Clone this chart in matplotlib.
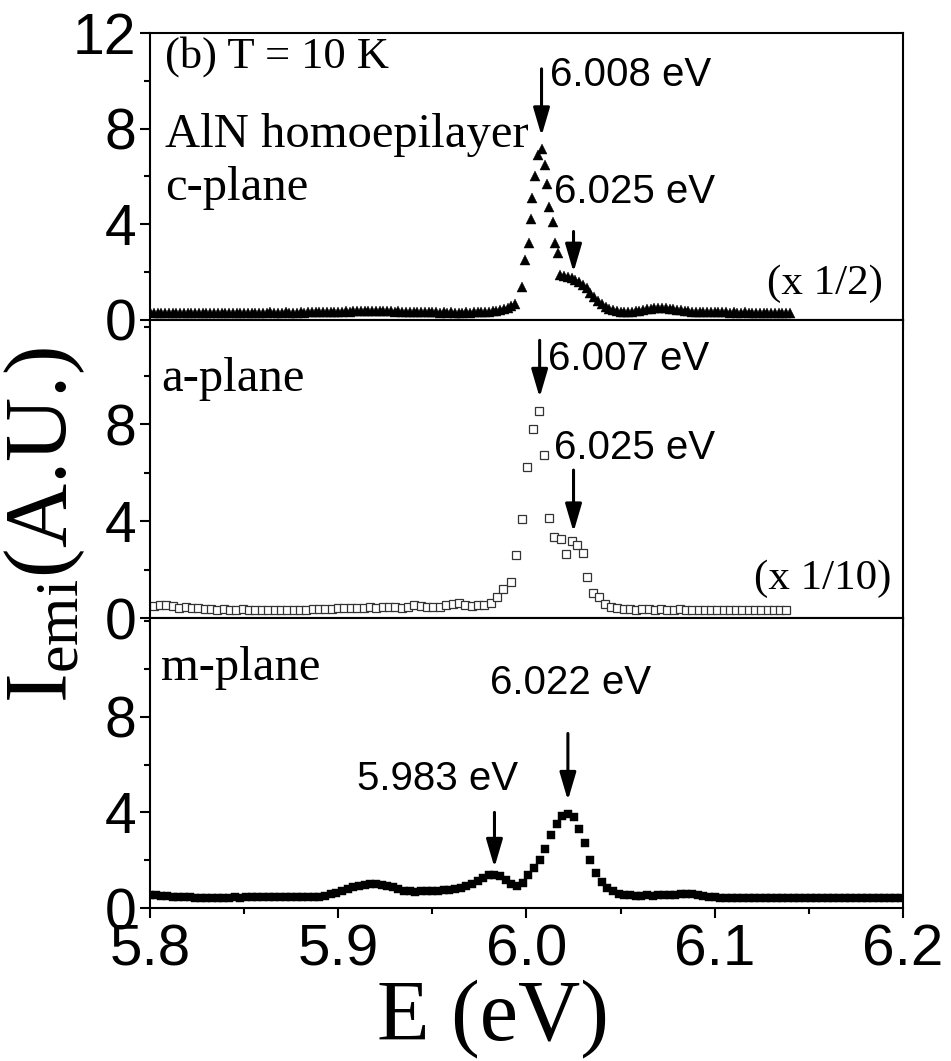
import numpy as np
import matplotlib.pyplot as plt
from matplotlib.ticker import MultipleLocator

plt.rcParams['mathtext.fontset'] = 'custom'
plt.rcParams['mathtext.rm'] = 'Liberation Serif'
plt.rcParams['mathtext.it'] = 'Liberation Serif:italic'

SANS = 'Liberation Sans'
SERIF = 'Liberation Serif'

# ---- c-plane (triangles), shown x 1/2 ----
c_base_left = [
    0.32, 0.31, 0.30, 0.31, 0.30, 0.29, 0.30, 0.31, 0.30, 0.29,
    0.30, 0.29, 0.30, 0.31, 0.30, 0.29, 0.30, 0.30, 0.31, 0.30,
    0.29, 0.30, 0.31, 0.30, 0.30, 0.31, 0.30, 0.29, 0.30, 0.31,
    0.30, 0.31, 0.32, 0.31, 0.30, 0.31, 0.32, 0.31, 0.30, 0.31,
    0.32, 0.31, 0.32, 0.33, 0.32, 0.33, 0.34, 0.33, 0.34, 0.35,
    0.34, 0.35, 0.36, 0.35, 0.36, 0.37, 0.36, 0.37, 0.38, 0.37,
    0.38, 0.37, 0.36, 0.37, 0.36, 0.35, 0.36, 0.35, 0.34, 0.35,
    0.34, 0.33, 0.34, 0.33, 0.32, 0.33, 0.32, 0.31, 0.32, 0.31,
    0.32, 0.31, 0.30, 0.31, 0.32, 0.31, 0.32, 0.33, 0.32, 0.33,
    0.34, 0.36, 0.38, 0.41, 0.45, 0.50, 0.58, 0.68,
]
c_peak_e = [5.9976, 5.9992, 6.0013, 6.0024, 6.0029, 6.0045, 6.0061,
            6.0080, 6.0098, 6.0109, 6.0120, 6.0140, 6.0150, 6.0167]
c_peak_i = [1.38, 2.51, 3.22, 4.23, 5.10, 6.03, 6.90,
            7.15, 6.50, 5.70, 4.73, 4.10, 3.22, 2.80]
c_base_right = [
    1.90, 1.85, 1.80, 1.74, 1.68, 1.60, 1.48, 1.35, 1.12, 0.95,
    0.80, 0.66, 0.55, 0.46, 0.40, 0.37, 0.35, 0.34,
    0.34, 0.35, 0.36, 0.38, 0.41,
    0.44, 0.47, 0.49, 0.50, 0.50, 0.49, 0.47, 0.45, 0.42, 0.40,
    0.38, 0.36, 0.35, 0.34, 0.34, 0.33, 0.33, 0.33, 0.32, 0.32,
    0.32, 0.32, 0.31, 0.32, 0.31, 0.31, 0.32, 0.31, 0.31, 0.30,
    0.31, 0.30, 0.31, 0.30, 0.30, 0.31, 0.30, 0.30, 0.30,
]
c_e = np.concatenate([np.linspace(5.800, 5.994, len(c_base_left)), c_peak_e,
                      np.linspace(6.018, 6.140, len(c_base_right))])
c_i = np.concatenate([c_base_left, c_peak_i, c_base_right])

# ---- a-plane (open squares), shown x 1/10 ----
a_base_left = [
    0.49, 0.53, 0.54, 0.48, 0.42, 0.44, 0.40, 0.43, 0.38, 0.36,
    0.34, 0.36, 0.35, 0.33, 0.36, 0.34, 0.32, 0.34, 0.33, 0.32,
    0.34, 0.33, 0.35, 0.33, 0.34, 0.36, 0.38, 0.37, 0.39, 0.41,
    0.40, 0.42, 0.41, 0.43, 0.44, 0.42, 0.45, 0.44, 0.46, 0.43,
    0.45, 0.55, 0.48, 0.47, 0.45, 0.46, 0.55, 0.58, 0.60, 0.52,
    0.48, 0.52, 0.55, 0.60,
]
a_peak_e = [5.9845, 5.9876, 5.9918, 5.9944, 5.9976, 6.0003, 6.0035, 6.0068,
            6.0093, 6.0120, 6.0146, 6.0183, 6.0210, 6.0242, 6.0268, 6.0300,
            6.0321, 6.0353, 6.0385, 6.0417]
a_peak_i = [0.85, 1.19, 1.48, 2.60, 4.08, 6.23, 7.80, 8.54,
            6.72, 4.12, 3.34, 3.26, 2.64, 3.18, 3.00, 2.68,
            1.69, 1.03, 0.87, 0.58]
a_base_right = [
    0.45, 0.41, 0.38, 0.36, 0.35, 0.36, 0.37, 0.35, 0.36, 0.35,
    0.34, 0.36, 0.35, 0.34, 0.33, 0.35, 0.34, 0.33, 0.34, 0.33,
    0.34, 0.32, 0.33, 0.34, 0.32, 0.33, 0.33, 0.32, 0.33,
]
a_e = np.concatenate([np.linspace(5.802, 5.981, len(a_base_left)), a_peak_e,
                      np.linspace(6.045, 6.138, len(a_base_right))])
a_i = np.concatenate([a_base_left, a_peak_i, a_base_right])

# ---- m-plane (filled squares) ----
m_i = [
    0.55, 0.54, 0.52, 0.50, 0.48, 0.46, 0.45, 0.44, 0.43, 0.42,
    0.42, 0.42, 0.43, 0.42, 0.43, 0.44, 0.43, 0.44, 0.45, 0.44,
    0.45, 0.46, 0.47, 0.48, 0.47, 0.46, 0.45, 0.44, 0.44, 0.45,
    0.47, 0.51, 0.57, 0.64, 0.72, 0.80, 0.87, 0.93, 0.98, 1.00,
    0.99, 0.96, 0.92, 0.86, 0.79, 0.73, 0.70, 0.69, 0.70, 0.71,
    0.72, 0.73, 0.74, 0.76, 0.80, 0.85, 0.92, 1.02, 1.14, 1.26,
    1.36, 1.40, 1.33, 1.18, 1.02, 0.93, 1.05, 1.40, 1.68, 2.00,
    2.45, 3.05, 3.50, 3.85, 3.95, 3.82, 3.30, 2.70, 2.00, 1.48,
    1.10, 0.85, 0.70, 0.60, 0.55, 0.53, 0.52, 0.52, 0.53, 0.52,
    0.53, 0.54, 0.55, 0.56, 0.58, 0.59, 0.58, 0.55, 0.50, 0.46,
    0.44, 0.43, 0.43, 0.42, 0.42, 0.42, 0.41, 0.42, 0.41, 0.41,
    0.41, 0.40, 0.41, 0.40, 0.41, 0.40, 0.40, 0.41, 0.40, 0.40,
    0.40, 0.41, 0.40, 0.40, 0.40, 0.41, 0.40, 0.40, 0.40, 0.41,
    0.40, 0.40, 0.41, 0.40,
]
m_e = 5.800 + 0.003 * np.arange(len(m_i))

# peak energies marked with arrows: (energy, arrow top, arrow tip)
c_marks = [(6.008, 10.5, 7.7), (6.025, 3.7, 2.0)]
a_marks = [(6.007, 11.45, 9.1), (6.025, 6.1, 3.55)]
m_marks = [(6.022, 7.3, 4.5), (5.983, 4.0, 1.7)]

fig = plt.figure(figsize=(9.51, 10.61), dpi=100)
L, W = 0.1577, 0.7918
ax_c = fig.add_axes([L, 0.6984, W, 0.2705])
ax_a = fig.add_axes([L, 0.4175, W, 0.2809])
ax_m = fig.add_axes([L, 0.1442, W, 0.2733])

ax_c.plot(c_e, c_i, ls='none', marker='^', ms=7, mfc='k', mec='k', mew=0.3)
ax_a.plot(a_e, a_i, ls='none', marker='s', ms=5.5, mfc='white', mec='#333333', mew=0.9)
ax_m.plot(m_e, m_i, ls='none', marker='s', ms=5.4, mfc='k', mec='k', mew=0.3)

ax_c.set_ylim(0, 12)
ax_a.set_ylim(0, 12.29)
ax_m.set_ylim(0, 12.13)

for ax in (ax_c, ax_a, ax_m):
    ax.set_xlim(5.8, 6.2)
    ax.xaxis.set_major_locator(MultipleLocator(0.1))
    ax.xaxis.set_minor_locator(MultipleLocator(0.05))
    ax.yaxis.set_minor_locator(MultipleLocator(2))
    ax.tick_params(which='both', direction='out', width=1.5, top=False, right=False)
    ax.tick_params(which='major', length=7)
    ax.tick_params(which='minor', length=4)
    ax.tick_params(axis='y', labelsize=41, pad=3)
    for s in ax.spines.values():
        s.set_linewidth(1.5)

ax_c.set_yticks([0, 4, 8, 12])
ax_a.set_yticks([0, 4, 8])
ax_m.set_yticks([0, 4, 8])
for ax in (ax_c, ax_a, ax_m):
    for lab in ax.get_yticklabels():
        lab.set_fontfamily(SANS)

ax_c.tick_params(axis='x', labelbottom=False)
ax_a.tick_params(axis='x', labelbottom=False)
ax_m.tick_params(axis='x', labelsize=42, pad=4)
ax_m.set_xticks([5.8, 5.9, 6.0, 6.1, 6.2])
ax_m.set_xticklabels(['5.8', '5.9', '6.0', '6.1', '6.2'], fontfamily=SANS)


def mark(ax, marks):
    for e, top, tip in marks:
        ax.annotate('', xy=(e, tip), xytext=(e, top),
                    arrowprops=dict(arrowstyle='-|>,head_length=0.85,head_width=0.25',
                                    mutation_scale=20, lw=2.2, color='k',
                                    shrinkA=0, shrinkB=0))


mark(ax_c, c_marks)
mark(ax_a, a_marks)
mark(ax_m, m_marks)

serif_kw = dict(fontfamily=SERIF, fontsize=35, va='center', ha='left')
sans_kw = dict(fontfamily=SANS, fontsize=29, va='center', ha='left')

ax_c.text(5.808, 11.0, '(b) T = 10 K', fontfamily=SERIF, fontsize=32,
          va='center', ha='left')
ax_c.text(5.808, 7.75, 'AlN homoepilayer', **serif_kw)
ax_c.text(5.808, 5.5, 'c-plane', **serif_kw)
ax_c.text(6.128, 1.5, '(x 1/2)', fontfamily=SERIF, fontsize=31, va='center', ha='left')
ax_c.text(6.0125, 10.25, '%.3f eV' % c_marks[0][0], **sans_kw)
ax_c.text(6.0145, 5.35, '%.3f eV' % c_marks[1][0], **sans_kw)

ax_a.text(5.806, 9.85, 'a-plane', **serif_kw)
ax_a.text(6.121, 1.6, '(x 1/10)', fontfamily=SERIF, fontsize=31, va='center', ha='left')
ax_a.text(6.0115, 10.7, '%.3f eV' % a_marks[0][0], **sans_kw)
ax_a.text(6.0145, 7.0, '%.3f eV' % a_marks[1][0], **sans_kw)

ax_m.text(5.806, 10.05, 'm-plane', **serif_kw)
ax_m.text(5.9805, 9.4, '%.3f eV' % m_marks[0][0], **sans_kw)
ax_m.text(5.9100, 5.4, '%.3f eV' % m_marks[1][0], **sans_kw)

fig.text(0.047, 0.505, r'I$_{\rm emi}$(A.U.)', rotation=90, fontfamily=SERIF,
         fontsize=64, ha='center', va='center')
fig.text(0.518, 0.040, 'E (eV)', fontfamily=SERIF, fontsize=62, ha='center', va='center')

fig.savefig('out.png', dpi=100)
